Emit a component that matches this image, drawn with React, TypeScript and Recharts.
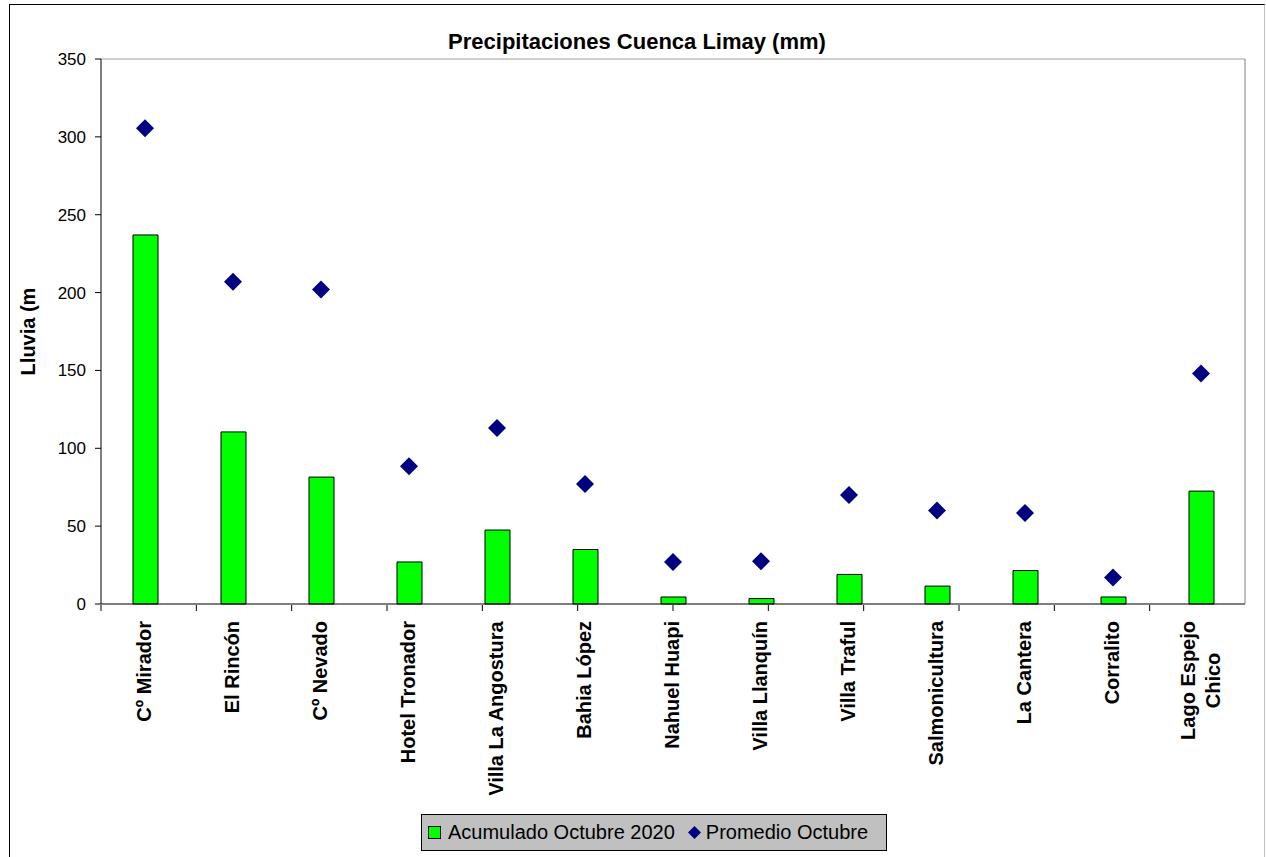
import { Bar, ComposedChart, Legend, Scatter, XAxis, YAxis } from "recharts";

const GREEN = "#00FF00";
const NAVY = "#000080";

const ESTACIONES = [
  "Cº Mirador",
  "El Rincón",
  "Cº Nevado",
  "Hotel Tronador",
  "Villa La Angostura",
  "Bahia López",
  "Nahuel Huapi",
  "Villa Llanquín",
  "Villa Traful",
  "Salmonicultura",
  "La Cantera",
  "Corralito",
  "Lago Espejo\nChico",
];
const ACUMULADO_OCT_2020 = [237, 110.5, 81.5, 27, 47.5, 35, 4.5, 3.5, 19, 11.5, 21.5, 4.5, 72.5];
const PROMEDIO_OCT = [305.5, 207, 202, 88.5, 113, 77, 27, 27.5, 70, 60, 58.5, 17, 148];
const Y_TICKS = [0, 50, 100, 150, 200, 250, 300, 350];
const EDGE_TICKS = ESTACIONES.map((_, i) => i).concat(ESTACIONES.length);

const data = ESTACIONES.map((name, i) => ({
  name,
  acum: ACUMULADO_OCT_2020[i],
  prom: PROMEDIO_OCT[i],
}));

const FONT = "Arial, 'Liberation Sans', sans-serif";
const LABEL_FONT = "bold 20px 'Liberation Sans', Arial, sans-serif";

let measureCtx: CanvasRenderingContext2D | null = null;
function textWidth(s: string) {
  if (!measureCtx && typeof document !== "undefined") {
    measureCtx = document.createElement("canvas").getContext("2d");
  }
  if (!measureCtx) return s.length * 11;
  measureCtx.font = LABEL_FONT;
  return measureCtx.measureText(s).width;
}

// rotated station names, multi-line ones centred on the longest line
function StationTick(props: any) {
  const { x, y, payload } = props;
  const lines = String(payload.value).split("\n");
  const longest = Math.max(...lines.map(textWidth));
  const cy = y + 17 + longest / 2;
  return (
    <g>
      {lines.map((line, i) => (
        <text
          key={i}
          transform={`translate(${x + 6 + (i - (lines.length - 1) / 2) * 25}, ${cy}) rotate(-90)`}
          textAnchor="middle"
          fontSize={20}
          fontWeight="bold"
          fontFamily={FONT}
          fill="#000"
        >
          {line}
        </text>
      ))}
    </g>
  );
}

function Diamond(props: any) {
  const { cx, cy } = props;
  const r = 9;
  return <polygon points={`${cx},${cy - r} ${cx + r},${cy} ${cx},${cy + r} ${cx - r},${cy}`} fill={NAVY} />;
}

function LegendBox(props: any) {
  const payload = props.payload || [];
  return (
    <div
      style={{
        display: "flex",
        alignItems: "center",
        width: "100%",
        height: "100%",
        boxSizing: "border-box",
        background: "#C0C0C0",
        border: "1px solid #000",
        paddingLeft: 6,
        fontFamily: FONT,
        fontSize: 20,
        color: "#000",
      }}
    >
      {payload.map((entry: any) => (
        <span key={entry.value} style={{ display: "flex", alignItems: "center", marginRight: 13 }}>
          {entry.type === "diamond" ? (
            <svg width={13} height={13} style={{ marginRight: 5 }}>
              <polygon points="6.5,0 13,6.5 6.5,13 0,6.5" fill={NAVY} />
            </svg>
          ) : (
            <span
              style={{
                display: "inline-block",
                width: 13,
                height: 13,
                boxSizing: "border-box",
                background: GREEN,
                border: "1px solid #000",
                marginRight: 7,
              }}
            />
          )}
          {entry.value}
        </span>
      ))}
    </div>
  );
}

export default function App() {
  return (
    <div
      style={{
        position: "absolute",
        left: 0,
        top: 0,
        width: 1266,
        height: 857,
        overflow: "hidden",
        background: "#fff",
        fontFamily: FONT,
      }}
    >
      <div
        style={{
          position: "absolute",
          left: 9,
          top: 4,
          width: 1256,
          height: 900,
          boxSizing: "border-box",
          borderTop: "1px solid #000",
          borderLeft: "1px solid #000",
          borderRight: "1px solid #C0C0C0",
        }}
      />
      <div
        style={{
          position: "absolute",
          left: 9,
          width: 1256,
          top: 31,
          lineHeight: "22px",
          textAlign: "center",
          fontSize: 22,
          fontWeight: "bold",
          color: "#000",
        }}
      >
        Precipitaciones Cuenca Limay (mm)
      </div>
      <div style={{ position: "absolute", left: 0, top: 0 }}>
        <ComposedChart
          width={1266}
          height={857}
          data={data}
          margin={{ top: 58, right: 20, bottom: 251, left: 0 }}
          barCategoryGap={0}
        >
          <XAxis
            xAxisId="cat"
            dataKey="name"
            type="category"
            height={1}
            interval={0}
            tickSize={0}
            tickMargin={0}
            tick={<StationTick />}
            axisLine={{ stroke: "#000" }}
          />
          <XAxis
            xAxisId="edge"
            type="number"
            domain={[0, ESTACIONES.length]}
            ticks={EDGE_TICKS}
            height={1}
            tickSize={6}
            tickLine={{ stroke: "#000" }}
            axisLine={false}
            tick={() => <g />}
          />
          <XAxis
            xAxisId="top"
            orientation="top"
            dataKey="name"
            height={1}
            tick={false}
            tickLine={false}
            axisLine={{ stroke: "#A0A0A0" }}
          />
          <YAxis
            yAxisId="mm"
            width={101}
            domain={[0, 350]}
            ticks={Y_TICKS}
            tickSize={6}
            tickMargin={9}
            tick={{ fontSize: 17, fill: "#000", fontFamily: FONT }}
            tickLine={{ stroke: "#000" }}
            axisLine={{ stroke: "#000" }}
            label={{
              value: "Lluvia (m",
              angle: -90,
              position: "insideLeft",
              offset: 28,
              style: { textAnchor: "middle", fontSize: 20, fontWeight: "bold", fill: "#000", fontFamily: FONT },
            }}
          />
          <YAxis
            yAxisId="right"
            orientation="right"
            width={1}
            tick={false}
            tickLine={false}
            axisLine={{ stroke: "#808080" }}
          />
          <Bar
            xAxisId="cat"
            yAxisId="mm"
            dataKey="acum"
            name="Acumulado Octubre 2020"
            legendType="square"
            fill={GREEN}
            stroke="#000"
            strokeWidth={1}
            barSize={25}
            isAnimationActive={false}
          />
          <Scatter
            xAxisId="cat"
            yAxisId="mm"
            dataKey="prom"
            name="Promedio Octubre"
            legendType="diamond"
            fill={NAVY}
            shape={<Diamond />}
            isAnimationActive={false}
          />
          <Legend
            layout="horizontal"
            verticalAlign="middle"
            align="center"
            content={<LegendBox />}
            wrapperStyle={{ left: 421, top: 814, width: 466, height: 37 }}
          />
        </ComposedChart>
      </div>
    </div>
  );
}
